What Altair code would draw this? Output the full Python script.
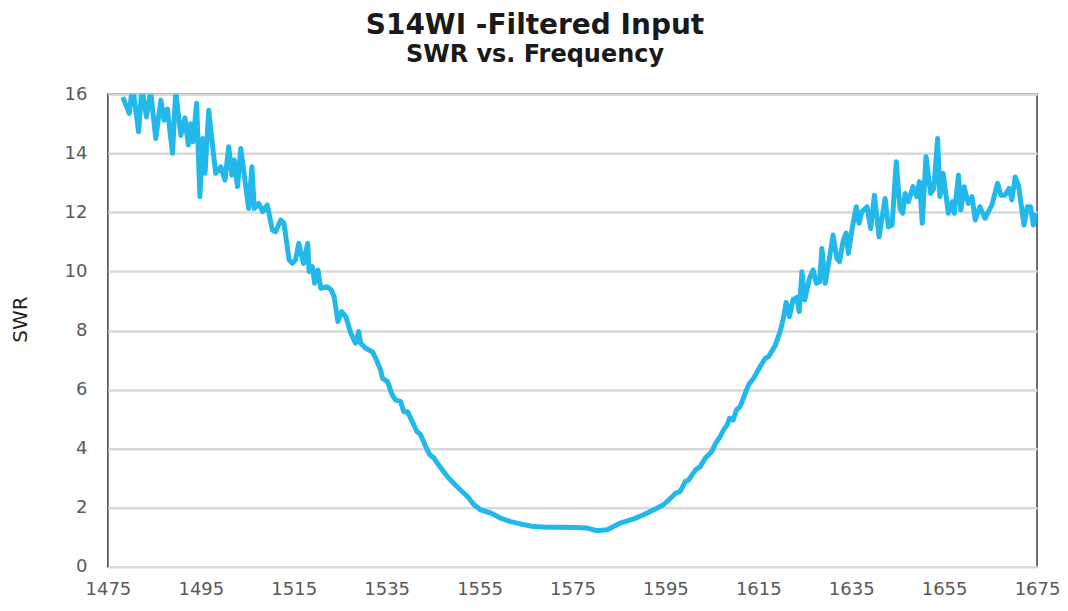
import altair as alt
import pandas as pd

freq = [
    1478.2, 1479.6, 1480.3, 1481.6, 1482.3, 1483.3, 1484.2, 1485.3, 1486.4, 1487.1,
    1487.8, 1488.9, 1489.6, 1490.7, 1491.6, 1492.3, 1492.8, 1493.3, 1494.1, 1494.8,
    1495.4, 1495.9, 1496.7, 1497.4, 1498.2, 1499.3, 1500.2, 1501.0, 1501.7, 1502.2,
    1502.9, 1503.6, 1505.3, 1506.0, 1506.5, 1507.5, 1508.3, 1509.3, 1510.4, 1511.1,
    1512.2, 1512.9, 1514.0, 1514.7, 1515.4, 1516.1, 1517.1, 1518.0, 1518.3, 1519.0,
    1519.5, 1520.2, 1520.8, 1522.2, 1523.1, 1523.7, 1524.5, 1525.3, 1526.2, 1527.3,
    1528.3, 1529.0, 1529.4, 1530.5, 1532.0, 1532.8, 1533.7, 1534.1, 1535.2, 1536.2,
    1536.9, 1538.0, 1538.7, 1539.5, 1540.5, 1541.5, 1542.3, 1543.4, 1544.3, 1545.2,
    1545.9, 1547.0, 1548.1, 1549.8, 1550.9, 1552.4, 1553.8, 1555.2, 1557.4, 1559.5,
    1561.7, 1563.8, 1566.7, 1569.6, 1572.4, 1575.3, 1578.2, 1580.3, 1582.5, 1585.3,
    1588.2, 1590.3, 1592.5, 1594.6, 1596.1, 1597.2, 1598.2, 1599.3, 1600.0, 1601.5,
    1602.5, 1603.6, 1605.0, 1605.8, 1606.8, 1607.5, 1608.3, 1608.8, 1609.6, 1610.3,
    1611.1, 1612.2, 1612.9, 1614.0, 1615.4, 1616.5, 1617.2, 1618.7, 1619.7, 1620.4,
    1621.0, 1621.7, 1622.5, 1623.3, 1623.8, 1624.4, 1625.0, 1626.0, 1626.8, 1627.5,
    1628.2, 1628.7, 1629.4, 1630.3, 1631.1, 1631.9, 1632.5, 1633.3, 1633.9, 1634.4,
    1635.2, 1636.1, 1636.7, 1637.3, 1638.4, 1639.2, 1640.0, 1641.0, 1642.3, 1643.0,
    1643.8, 1644.7, 1645.5, 1646.1, 1646.6, 1647.3, 1648.3, 1649.1, 1649.7, 1650.3,
    1651.1, 1652.1, 1652.8, 1653.6, 1654.1, 1654.8, 1655.9, 1656.7, 1657.2, 1658.1,
    1658.6, 1659.3, 1660.2, 1661.0, 1661.7, 1662.7, 1663.8, 1665.3, 1666.5, 1667.2,
    1668.1, 1669.0, 1669.6, 1670.3, 1671.0, 1672.2, 1672.9, 1673.6, 1674.2, 1674.9,
]

swr = [
    15.90, 15.35, 16.30, 14.73, 16.20, 15.23, 16.10, 14.50, 15.80, 15.12,
    15.50, 14.00, 16.10, 14.60, 15.20, 14.28, 15.00, 14.39, 15.69, 12.53,
    14.50, 13.32, 15.46, 14.44, 13.32, 13.54, 13.09, 14.22, 13.26, 13.77,
    12.87, 14.16, 12.13, 13.54, 12.13, 12.30, 12.02, 12.25, 11.40, 11.34,
    11.74, 11.63, 10.39, 10.27, 10.39, 10.95, 10.27, 10.95, 9.99, 10.16,
    9.60, 10.05, 9.43, 9.48, 9.37, 9.14, 8.30, 8.64, 8.47, 7.90,
    7.57, 7.96, 7.57, 7.40, 7.27, 7.00, 6.66, 6.38, 6.27, 5.82,
    5.65, 5.59, 5.25, 5.25, 4.92, 4.58, 4.47, 4.07, 3.79, 3.68,
    3.51, 3.28, 3.05, 2.77, 2.60, 2.38, 2.10, 1.93, 1.82, 1.65,
    1.53, 1.45, 1.36, 1.34, 1.34, 1.33, 1.31, 1.22, 1.25, 1.48,
    1.62, 1.76, 1.93, 2.10, 2.32, 2.49, 2.55, 2.89, 2.94, 3.28,
    3.39, 3.68, 3.90, 4.18, 4.41, 4.63, 4.80, 5.03, 4.97, 5.31,
    5.42, 5.88, 6.16, 6.38, 6.78, 7.06, 7.11, 7.51, 7.96, 8.41,
    8.95, 8.47, 9.05, 9.12, 8.64, 9.99, 9.03, 9.75, 10.05, 9.60,
    9.65, 10.78, 9.60, 10.44, 11.23, 10.44, 10.33, 11.06, 11.30, 10.61,
    11.45, 12.19, 11.63, 12.02, 12.19, 11.45, 12.58, 11.17, 12.47, 11.51,
    11.57, 13.71, 12.13, 11.97, 12.64, 12.36, 12.87, 12.53, 13.04, 11.63,
    13.88, 12.64, 12.81, 14.50, 12.53, 13.32, 11.97, 12.36, 11.97, 13.26,
    12.08, 12.87, 12.30, 12.53, 11.74, 12.19, 11.80, 12.25, 12.98, 12.58,
    12.58, 12.81, 12.42, 13.20, 12.92, 11.57, 12.19, 12.19, 11.57, 11.97,
]

x_ticks = [1475, 1495, 1515, 1535, 1555, 1575, 1595, 1615, 1635, 1655, 1675]
y_ticks = [0, 2, 4, 6, 8, 10, 12, 14, 16]

df = pd.DataFrame({"Frequency": freq, "SWR": swr})

chart = (
    alt.Chart(df)
    .mark_line(color="#22b8ea", strokeWidth=5, strokeJoin="round", clip=True)
    .encode(
        x=alt.X(
            "Frequency:Q",
            scale=alt.Scale(domain=[1475, 1675], nice=False, zero=False),
            axis=alt.Axis(
                values=x_ticks, title=None, grid=False, ticks=False, domain=False,
                labelFont="DejaVu Sans", labelFontSize=18, labelColor="#595959",
                labelPadding=14, labelFlush=False, format="d",
            ),
        ),
        y=alt.Y(
            "SWR:Q",
            scale=alt.Scale(domain=[0, 16], nice=False),
            axis=alt.Axis(
                values=y_ticks, title="SWR", grid=True, gridColor="#d9d9d9",
                gridWidth=2.5, ticks=False, domain=False,
                labelFont="DejaVu Sans", labelFontSize=18, labelColor="#595959",
                labelPadding=21, titleFont="DejaVu Sans", titleFontSize=20,
                titleFontWeight="normal", titleColor="#222222", titlePadding=34,
                titleY=225,
            ),
        ),
    )
    .properties(
        width=930,
        height=473,
        padding={"left": 2, "top": 4, "right": 0, "bottom": 2},
        title=alt.TitleParams(
            text="S14WI -Filtered Input",
            subtitle="SWR vs. Frequency",
            font="DejaVu Sans",
            fontSize=28,
            fontWeight="bold",
            color="#1a1a1a",
            subtitleFont="DejaVu Sans",
            subtitleFontSize=24,
            subtitleFontWeight="bold",
            subtitleColor="#1a1a1a",
            subtitlePadding=3,
            anchor="middle",
            frame="bounds",
            offset=18,
        ),
    )
    .configure_view(stroke="#404040", strokeWidth=1.5)
)

chart.save("out.html", embed_options={"renderer": "svg", "actions": False})
